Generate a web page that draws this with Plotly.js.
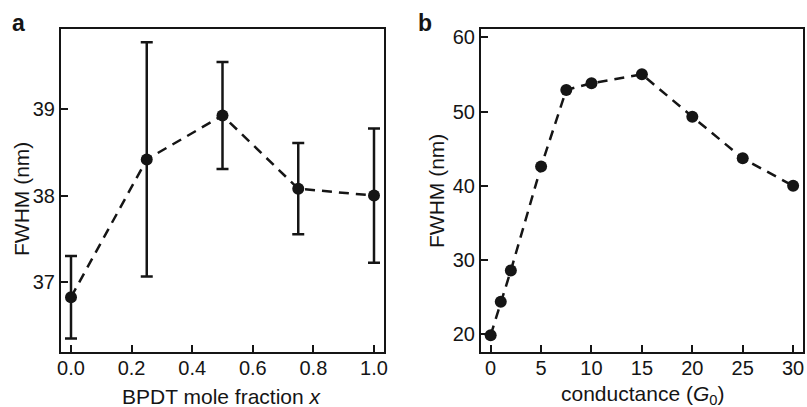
<!DOCTYPE html>
<html>
<head>
<meta charset="utf-8">
<script src="https://cdn.plot.ly/plotly-3.0.1.min.js"></script>
<style>html,body{margin:0;padding:0;background:#fff}#chart{width:807px;height:407px}</style>
</head>
<body>
<div id="chart"></div>
<script>
// Panel a: FWHM vs BPDT mole fraction
var fractionX = [0, 0.25, 0.5, 0.75, 1.0];
var fwhmA = [36.82, 38.42, 38.93, 38.08, 38.0];
var fwhmAErr = [0.48, 1.36, 0.62, 0.53, 0.78];
var tickValsA = [0, 0.2, 0.4, 0.6, 0.8, 1.0];
var tickTextA = ['0.0', '0.2', '0.4', '0.6', '0.8', '1.0'];
var yTickValsA = [37, 38, 39];

// Panel b: FWHM vs conductance
var conductance = [0, 1, 2, 5, 7.5, 10, 15, 20, 25, 30];
var fwhmB = [19.9, 24.4, 28.6, 42.6, 52.9, 53.8, 55.0, 49.3, 43.7, 40.0];
var tickValsB = [0, 5, 10, 15, 20, 25, 30];
var yTickValsB = [20, 30, 40, 50, 60];

var FONT = 'Liberation Sans, Arial, Helvetica, sans-serif';
var INK = '#151515';
var W = 807, H = 407;

var traces = [
  {
    x: fractionX, y: fwhmA, xaxis: 'x', yaxis: 'y', type: 'scatter', mode: 'lines+markers',
    line: {color: INK, width: 2.5, dash: '10px,7px'},
    marker: {color: INK, size: 12},
    error_y: {type: 'data', array: fwhmAErr, visible: true, color: INK, thickness: 2.5, width: 6},
    hoverinfo: 'skip', showlegend: false, cliponaxis: false
  },
  {
    x: conductance, y: fwhmB, xaxis: 'x2', yaxis: 'y2', type: 'scatter', mode: 'lines+markers',
    line: {color: INK, width: 2.5, dash: '10px,7px'},
    marker: {color: INK, size: 12},
    hoverinfo: 'skip', showlegend: false, cliponaxis: false
  }
];

function axisBase() {
  return {
    showline: true, mirror: true, linecolor: INK, linewidth: 2,
    ticks: 'inside', ticklen: 7, tickwidth: 2, tickcolor: INK,
    showgrid: false, zeroline: false, fixedrange: true,
    tickfont: {family: FONT, size: 20, color: INK}
  };
}

var yDom = [(H - 351.5) / H, (H - 28.5) / H];

var xa = Object.assign(axisBase(), {domain: [61 / W, 384 / W], range: [-0.033, 1.033],
  tickmode: 'array', tickvals: tickValsA, ticktext: tickTextA, anchor: 'y', ticklabelstandoff: -3});
var ya = Object.assign(axisBase(), {domain: yDom, range: [36.19, 39.94],
  tickmode: 'array', tickvals: yTickValsA, anchor: 'x'});
var xb = Object.assign(axisBase(), {domain: [481 / W, 802.5 / W], range: [-0.96, 30.93],
  tickmode: 'array', tickvals: tickValsB, anchor: 'y2', ticklabelstandoff: -3});
var yb = Object.assign(axisBase(), {domain: yDom, range: [17.71, 61.17],
  tickmode: 'array', tickvals: yTickValsB, anchor: 'x2'});

function ann(text, px, py, opts) {
  return Object.assign({
    text: text, xref: 'paper', yref: 'paper', x: px / W, y: 1 - py / H,
    xanchor: 'center', yanchor: 'middle', showarrow: false,
    font: {family: FONT, size: 21, color: INK}
  }, opts || {});
}

var layout = {
  width: W, height: H,
  margin: {l: 0, r: 0, t: 0, b: 0},
  paper_bgcolor: '#fff', plot_bgcolor: '#fff',
  xaxis: xa, yaxis: ya, xaxis2: xb, yaxis2: yb,
  annotations: [
    ann('<b>a</b>', 18, 23, {font: {family: FONT, size: 23, color: INK}}),
    ann('<b>b</b>', 425, 23, {font: {family: FONT, size: 23, color: INK}}),
    ann('BPDT mole fraction <i>x</i>', 222, 396),
    ann('conductance (<i>G</i><sub>0</sub>)', 642, 395),
    ann('FWHM (nm)', 21, 199, {textangle: -90}),
    ann('FWHM (nm)', 436, 191, {textangle: -90})
  ]
};

Plotly.newPlot('chart', traces, layout, {displayModeBar: false, staticPlot: true});
</script>
</body>
</html>
